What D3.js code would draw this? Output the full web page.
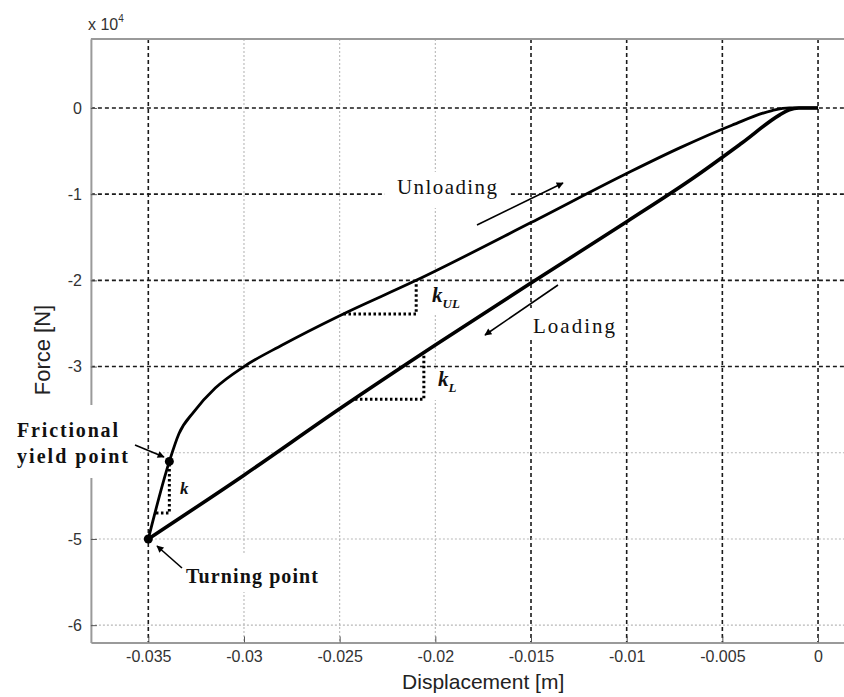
<!DOCTYPE html>
<html><head><meta charset="utf-8">
<script src="https://cdn.jsdelivr.net/npm/d3@7"></script>
<style>body{margin:0;background:#fff}</style>
</head><body>
<svg id="chart" width="844" height="697"></svg>
<script>
// Force–displacement loop of a friction damper: loading and unloading branches
const loadingDisp  = [0, -0.001, -0.0015, -0.002, -0.004, -0.0065, -0.010, -0.015, -0.020, -0.025, -0.030, -0.035];
const loadingForce = [0, 0, -200, -800, -4100, -8100, -13200, -20300, -27500, -34900, -42600, -50000];

const unloadingDisp  = [-0.0350, -0.0339, -0.0334, -0.0326, -0.0315, -0.0300, -0.0280, -0.0250, -0.0210, -0.0150, -0.0100, -0.0072, -0.0045, -0.0024, -0.0015, 0];
const unloadingForce = [-50000, -41000, -37800, -35200, -32500, -30000, -27500, -24100, -20000, -13300, -7600, -4600, -2000, -300, 0, 0];

const turningPoint = [-0.0350, -50000];
const yieldPoint   = [-0.0339, -41000];

// stiffness triangles: [x1, y1, x2, y2] with the hypotenuse on the curve
const kULTriangle = [-0.0248, -23900, -0.0210, -20000];
const kLTriangle  = [-0.0242, -33800, -0.0206, -28400];
const kTriangle   = [-0.0346, -47000, -0.0339, -41000];

const xTicks = [-0.035, -0.03, -0.025, -0.02, -0.015, -0.01, -0.005, 0];
const xTickLabels = ["-0.035", "-0.03", "-0.025", "-0.02", "-0.015", "-0.01", "-0.005", "0"];
const yTicks = [0, -10000, -20000, -30000, -40000, -50000, -60000];
// the -4 label sits under the "Frictional yield point" note
const yTickLabels = ["0", "-1", "-2", "-3", "", "-5", "-6"];

// grid lines drawn heavy (the rest are light dotted)
const heavyXGrid = [-0.035, -0.015, -0.01, -0.005, 0];
const heavyYGrid = [0, -10000, -20000, -30000];

const svg = d3.select("#chart");
svg.append("rect").attr("width", 844).attr("height", 697).attr("fill", "#fff");

const x = d3.scaleLinear().domain([-0.038, 0.002]).range([90.9, 856.3]);
const y = d3.scaleLinear().domain([8000, -62000]).range([39, 642.4]);

const [x0, x1] = x.range();
const [y0, y1] = y.range();

// grid
const grid = svg.append("g");
xTicks.forEach(t => {
  const heavy = heavyXGrid.includes(t);
  grid.append("line")
    .attr("x1", x(t)).attr("x2", x(t)).attr("y1", y0).attr("y2", y1)
    .attr("stroke", heavy ? "#1a1a1a" : "#b8b8b8")
    .attr("stroke-width", heavy ? 1.6 : 1.1)
    .attr("stroke-dasharray", heavy ? "4,3" : "2,2");
});
yTicks.forEach(t => {
  const heavy = heavyYGrid.includes(t);
  grid.append("line")
    .attr("x1", x0).attr("x2", x1).attr("y1", y(t)).attr("y2", y(t))
    .attr("stroke", heavy ? "#1a1a1a" : "#b8b8b8")
    .attr("stroke-width", heavy ? 1.6 : 1.1)
    .attr("stroke-dasharray", heavy ? "4,3" : "2,2");
});

// axes with inward ticks
const xAxis = d3.axisBottom(x).tickValues(xTicks)
  .tickFormat((d, i) => xTickLabels[i]).tickSizeInner(-6).tickSizeOuter(0).tickPadding(8);
const yAxis = d3.axisLeft(y).tickValues(yTicks)
  .tickFormat((d, i) => yTickLabels[i]).tickSizeInner(-6).tickSizeOuter(0).tickPadding(9);

const gx = svg.append("g").attr("transform", `translate(0,${y1})`).call(xAxis);
const gy = svg.append("g").attr("transform", `translate(${x0},0)`).call(yAxis);
[gx, gy].forEach(g => {
  g.select(".domain").attr("stroke", "#9a9a9a").attr("stroke-width", 2);
  g.selectAll(".tick line").attr("stroke", "#555").attr("stroke-width", 1);
  g.selectAll(".tick text").attr("fill", "#333")
    .style("font-family", "'Liberation Sans', Arial, sans-serif")
    .style("font-size", "16px");
});

// top frame line
svg.append("line").attr("x1", x0).attr("x2", x1).attr("y1", y0).attr("y2", y0)
  .attr("stroke", "#9a9a9a").attr("stroke-width", 2);

// exponent label
const expo = svg.append("text").attr("x", 88).attr("y", 30)
  .attr("fill", "#333").style("font-family", "'Liberation Sans', Arial, sans-serif")
  .style("font-size", "16px").text("x 10");
expo.append("tspan").attr("dy", -8).style("font-size", "10px").text("4");

// axis titles
svg.append("text").attr("x", x(-0.0175)).attr("y", 689).attr("text-anchor", "middle")
  .attr("fill", "#222").style("font-family", "'Liberation Sans', Arial, sans-serif")
  .style("font-size", "21px").text("Displacement [m]");
svg.append("text").attr("transform", "translate(50,350) rotate(-90)").attr("text-anchor", "middle")
  .attr("fill", "#222").style("font-family", "'Liberation Sans', Arial, sans-serif")
  .style("font-size", "22px").text("Force [N]");

// white backing boxes behind annotations
const boxes = [
  [385, 172, 125, 36],   // Unloading
  [525, 308, 95, 32],    // Loading
  [418, 283, 60, 32],    // k_UL
  [428, 370, 54, 30],    // k_L
  [6, 405, 134, 73],     // Frictional yield point
  [180, 554, 145, 38]    // Turning point
];
boxes.forEach(b => svg.append("rect").attr("x", b[0]).attr("y", b[1])
  .attr("width", b[2]).attr("height", b[3]).attr("fill", "#fff"));

// curves
const line = d3.line().x(d => x(d[0])).y(d => y(d[1])).curve(d3.curveMonotoneX);
const loading = loadingDisp.map((d, i) => [d, loadingForce[i]]).reverse();
const unloading = unloadingDisp.map((d, i) => [d, unloadingForce[i]]);

svg.append("path").datum(loading).attr("d", line)
  .attr("fill", "none").attr("stroke", "#000").attr("stroke-width", 3.6)
  .attr("stroke-linejoin", "round");
svg.append("path").datum(unloading).attr("d", line)
  .attr("fill", "none").attr("stroke", "#000").attr("stroke-width", 2.8)
  .attr("stroke-linejoin", "round");

// key points
[turningPoint, yieldPoint].forEach(p => svg.append("circle")
  .attr("cx", x(p[0])).attr("cy", y(p[1])).attr("r", 4.5).attr("fill", "#000"));

// stiffness triangles (dotted legs)
[kULTriangle, kLTriangle, kTriangle].forEach(t => {
  svg.append("path")
    .attr("d", `M${x(t[0])},${y(t[1])} H${x(t[2])} V${y(t[3])}`)
    .attr("fill", "none").attr("stroke", "#000").attr("stroke-width", 3)
    .attr("stroke-dasharray", "2.5,2.5");
});

// arrow marker
svg.append("defs").append("marker").attr("id", "head")
  .attr("viewBox", "0 0 10 10").attr("refX", 9).attr("refY", 5)
  .attr("markerWidth", 10).attr("markerHeight", 7).attr("markerUnits", "userSpaceOnUse")
  .attr("orient", "auto")
  .append("path").attr("d", "M0,0 L10,5 L0,10 z").attr("fill", "#000");

const arrows = [
  [477, 225, 563, 183],  // unloading direction
  [558, 285, 485, 335],  // loading direction
  [135, 445, 164, 457],  // to frictional yield point
  [182, 568, 157, 546]   // to turning point
];
arrows.forEach(a => svg.append("line")
  .attr("x1", a[0]).attr("y1", a[1]).attr("x2", a[2]).attr("y2", a[3])
  .attr("stroke", "#000").attr("stroke-width", 1.6).attr("marker-end", "url(#head)"));

// annotation text
const serif = "'Liberation Serif', 'Times New Roman', serif";
function note(tx, ty, str, size, weight, len) {
  const t = svg.append("text").attr("x", tx).attr("y", ty).attr("fill", "#111")
    .style("font-family", serif).style("font-size", size + "px").style("font-weight", weight)
    .text(str);
  if (len) t.attr("textLength", len).attr("lengthAdjust", "spacing");
  return t;
}
note(397, 194, "Unloading", 21, "normal", 100);
note(533, 333, "Loading", 21, "normal", 82);
note(17, 437, "Frictional", 20, "bold", 101);
note(17, 463, "yield point", 20, "bold", 111);
note(186, 583, "Turning point", 20, "bold", 132);

function kLabel(tx, ty, sub, size) {
  const t = svg.append("text").attr("x", tx).attr("y", ty).attr("fill", "#111")
    .style("font-family", serif).style("font-style", "italic").style("font-weight", "bold")
    .style("font-size", size + "px").text("k");
  if (sub) t.append("tspan").attr("dy", 6).style("font-size", (size * 0.62) + "px").text(sub);
}
kLabel(432, 302, "UL", 21);
kLabel(438, 386, "L", 21);
kLabel(180, 494, null, 17);
</script>
</body></html>
